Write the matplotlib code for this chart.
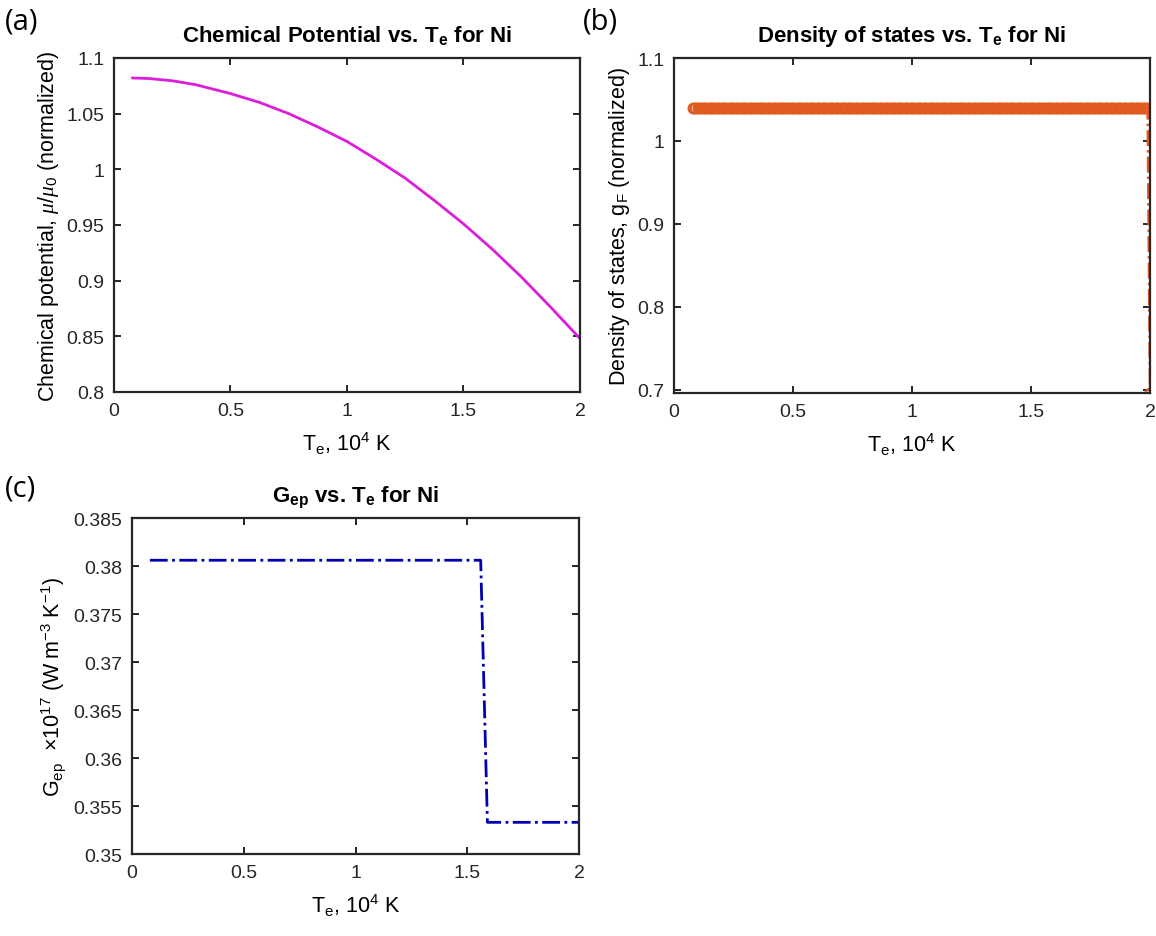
import matplotlib
matplotlib.use("Agg")
import matplotlib.pyplot as plt
import numpy as np
from matplotlib.ticker import FormatStrFormatter

plt.rcParams['font.family'] = ['Liberation Sans', 'DejaVu Sans']
plt.rcParams['mathtext.fontset'] = 'custom'
plt.rcParams['mathtext.rm'] = 'Liberation Sans'
plt.rcParams['mathtext.it'] = 'Liberation Serif:italic'
plt.rcParams['mathtext.bf'] = 'Liberation Sans:bold'
plt.rcParams['axes.linewidth'] = 1.6
plt.rcParams['axes.edgecolor'] = '#262626'
plt.rcParams['xtick.color'] = '#262626'
plt.rcParams['ytick.color'] = '#262626'

# (a) chemical potential vs electron temperature (Te in 1e4 K)
te_mu = [0.08, 0.15, 0.25, 0.35, 0.5, 0.625, 0.75, 0.875, 1.0, 1.125,
         1.25, 1.375, 1.5, 1.625, 1.75, 1.875, 2.0]
mu_norm = [1.082, 1.0815, 1.0795, 1.076, 1.068, 1.060, 1.050, 1.038, 1.025,
           1.009, 0.992, 0.972, 0.951, 0.928, 0.903, 0.876, 0.848]

# (b) density of states at the Fermi level
te_grid = np.arange(0.08, 2.0001, 0.01)
g_flat = 1.04
g_last = 0.6958
g_F = [g_flat] * (len(te_grid) - 1) + [g_last]

# (c) electron-phonon coupling
te_gep = [0.08, 1.56, 1.59, 2.0]
gep = [0.3806, 0.3806, 0.3533, 0.3533]

fig = plt.figure(figsize=(11.56, 9.37), dpi=100)
ax_a = fig.add_axes([0.0986, 0.5806, 0.4031, 0.3565])
ax_b = fig.add_axes([0.5830, 0.5795, 0.4118, 0.3575])
ax_c = fig.add_axes([0.1142, 0.0875, 0.3867, 0.3586])

ax_a.plot(te_mu, mu_norm, color='#DA1EDA', lw=2)
ax_a.set_xlim(0, 2)
ax_a.set_ylim(0.8, 1.1)
ax_a.set_yticks(np.arange(0.8, 1.1001, 0.05))
ax_a.set_title(r'Chemical Potential vs. $\mathbf{T_e}$ for Ni', fontsize=16,
               fontweight='bold', pad=12)
ax_a.set_ylabel(r'Chemical potential, $\mu/\mu_0$ (normalized)', fontsize=15.5)

ax_b.plot(te_grid, g_F, '-.o', color='#E05A20', lw=1.8, ms=7,
          mfc='none', mew=1.6)
ax_b.set_xlim(0, 2)
ax_b.set_ylim(g_last, 1.1)
ax_b.set_yticks([0.7, 0.8, 0.9, 1.0, 1.1])
ax_b.set_title(r'Density of states vs. $\mathbf{T_e}$ for Ni', fontsize=16,
               fontweight='bold', pad=12)
ax_b.set_ylabel(r'Density of states, $\mathrm{g_F}$ (normalized)', fontsize=15.5)

ax_c.plot(te_gep, gep, '-.', color='#0000B4', lw=2)
ax_c.set_xlim(0, 2)
ax_c.set_ylim(0.35, 0.385)
ax_c.set_yticks(np.arange(0.35, 0.3851, 0.005))
ax_c.set_title(r'$\mathbf{G_{ep}}$ vs. $\mathbf{T_e}$ for Ni', fontsize=16,
               fontweight='bold', pad=12)
ax_c.set_ylabel(r'$\mathrm{G_{ep}}$  $\times\mathrm{10^{17}}$ $\mathrm{(W\ m^{-3}\ K^{-1})}$',
                fontsize=15.5)

for ax in (ax_a, ax_b, ax_c):
    ax.set_xticks([0, 0.5, 1, 1.5, 2])
    ax.xaxis.set_major_formatter(FormatStrFormatter('%g'))
    ax.yaxis.set_major_formatter(FormatStrFormatter('%g'))
    ax.tick_params(direction='in', top=True, right=True, length=5,
                   width=1.4, labelsize=14, pad=7)
    ax.set_xlabel(r'$\mathrm{T_e}$, $\mathrm{10^4}$ K', fontsize=15.5, labelpad=8)

fig.text(0.004, 0.977, '(a)', fontsize=21, family='Open Sans', va='center')
fig.text(0.504, 0.977, '(b)', fontsize=21, family='Open Sans', va='center')
fig.text(0.004, 0.478, '(c)', fontsize=21, family='Open Sans', va='center')

fig.savefig('out.png', dpi=100)
